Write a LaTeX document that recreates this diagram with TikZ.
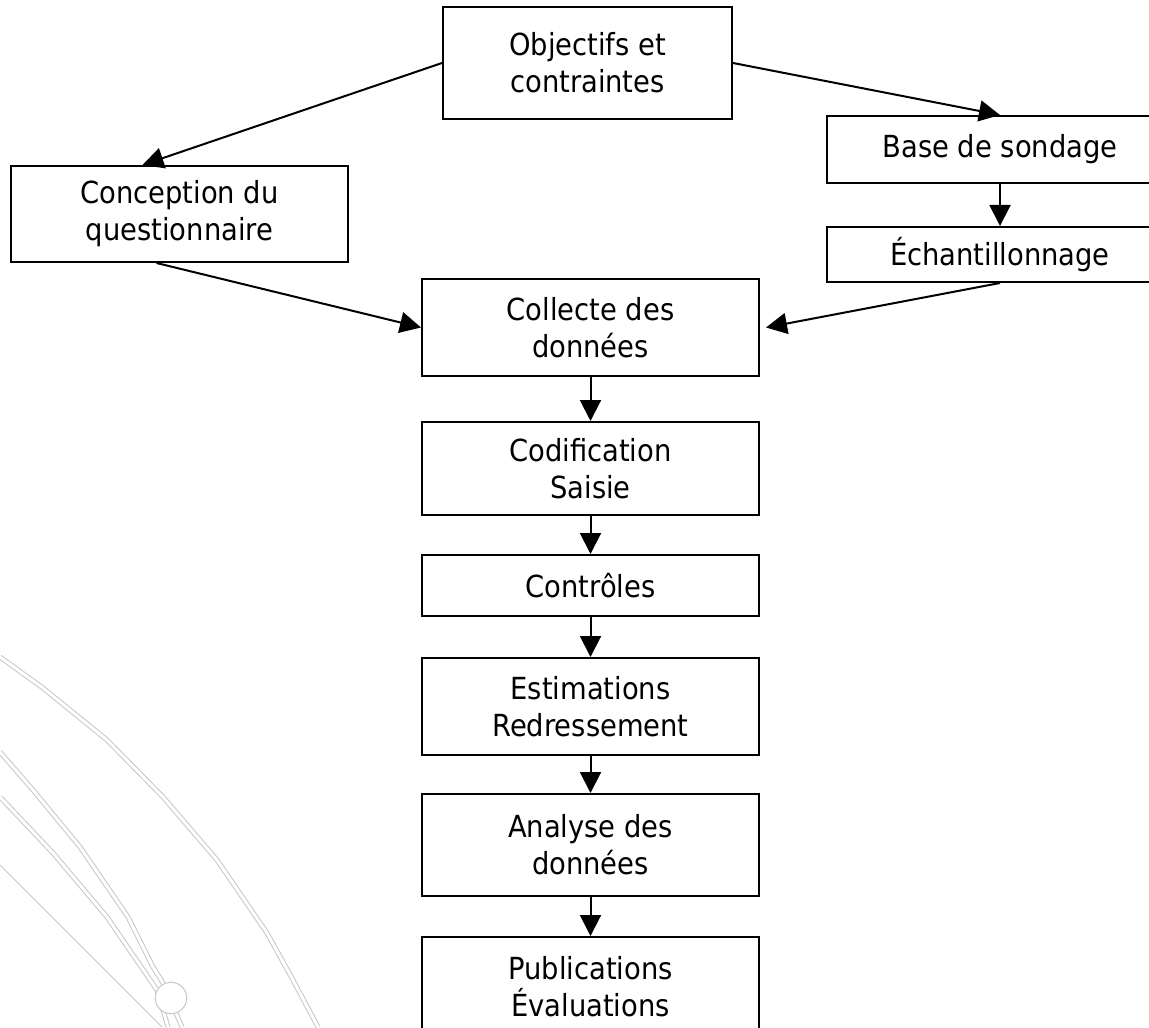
\documentclass[tikz,border=0pt]{standalone}
\usepackage{fontspec}
\setmainfont{DejaVu Sans Condensed}
\usetikzlibrary{arrows.meta}
\begin{document}
\begin{tikzpicture}[x=0.5pt, y=-0.5pt,
		boite/.style={draw, line width=1pt, align=center, inner sep=0pt, font=\fontsize{15.2pt}{18.5pt}\selectfont},
		fleche/.style={line width=1pt, -{Triangle[length=10.5pt,width=10.5pt]}},
		trace/.style={draw=black!22, line width=0.5pt, double=white, double distance=1.5pt, line join=round}]
		\useasboundingbox (0,0) rectangle (1149,1027);
		\clip (0,0) rectangle (1149,1027);
		% decor en fond
		\draw[trace] (0,657) -- (43,688) -- (107,740) -- (163,797) -- (217,860) -- (267,933) -- (293,980) -- (318,1027);
		\draw[trace] (0,752) -- (33,790) -- (80,847) -- (128,917) -- (153,967) -- (163,983) -- (182,1027);
		\draw[trace] (0,797) -- (53,853) -- (107,917) -- (157,990) -- (168,1027);
		\draw[draw=black!22, line width=0.5pt] (0,865) -- (162,1027);
		\draw[draw=black!22, line width=0.5pt, fill=white] (171,998) circle (7.85pt);
		% boites
		\node[boite, minimum width=144.5pt, minimum height=56pt] (obj) at (587.5,63) {Objectifs et\\contraintes};
		\node[boite, minimum width=168.5pt, minimum height=48pt] (conc) at (179.5,214) {Conception du\\questionnaire};
		\node[boite, minimum width=173pt, minimum height=33.5pt] (base) at (1000,149.5) {Base de sondage};
		\node[boite, minimum width=173pt, minimum height=27.5pt] (ech) at (1000,254.5) {Échantillonnage};
		\node[boite, minimum width=168.5pt, minimum height=48.5pt] (coll) at (590.5,327.5) {Collecte des\\données};
		\node[boite, minimum width=168.5pt, minimum height=46.5pt] (cod) at (590.5,468.5) {Codification\\Saisie};
		\node[boite, minimum width=168.5pt, minimum height=30.5pt] (ctrl) at (590.5,585.5) {Contrôles};
		\node[boite, minimum width=168.5pt, minimum height=48.5pt] (est) at (590.5,706.5) {Estimations\\Redressement};
		\node[boite, minimum width=168.5pt, minimum height=51pt] (ana) at (590.5,845) {Analyse des\\données};
		\node[boite, minimum width=168.5pt, minimum height=50pt] (pub) at (590.5,987) {Publications\\Évaluations};
		% fleches
		\draw[fleche] (obj.west) -- ([xshift=-18.5pt]conc.north);
		\draw[fleche] (obj.east) -- (base.north);
		\draw[fleche] ([xshift=-11.5pt]conc.south) -- (coll.west);
		\draw[fleche] (ech.south) -- ([xshift=3pt]coll.east);
		\foreach \a/\b in {base/ech, coll/cod, cod/ctrl, ctrl/est, est/ana, ana/pub}
			\draw[fleche] (\a) -- (\b);
	\end{tikzpicture}
\end{document}
